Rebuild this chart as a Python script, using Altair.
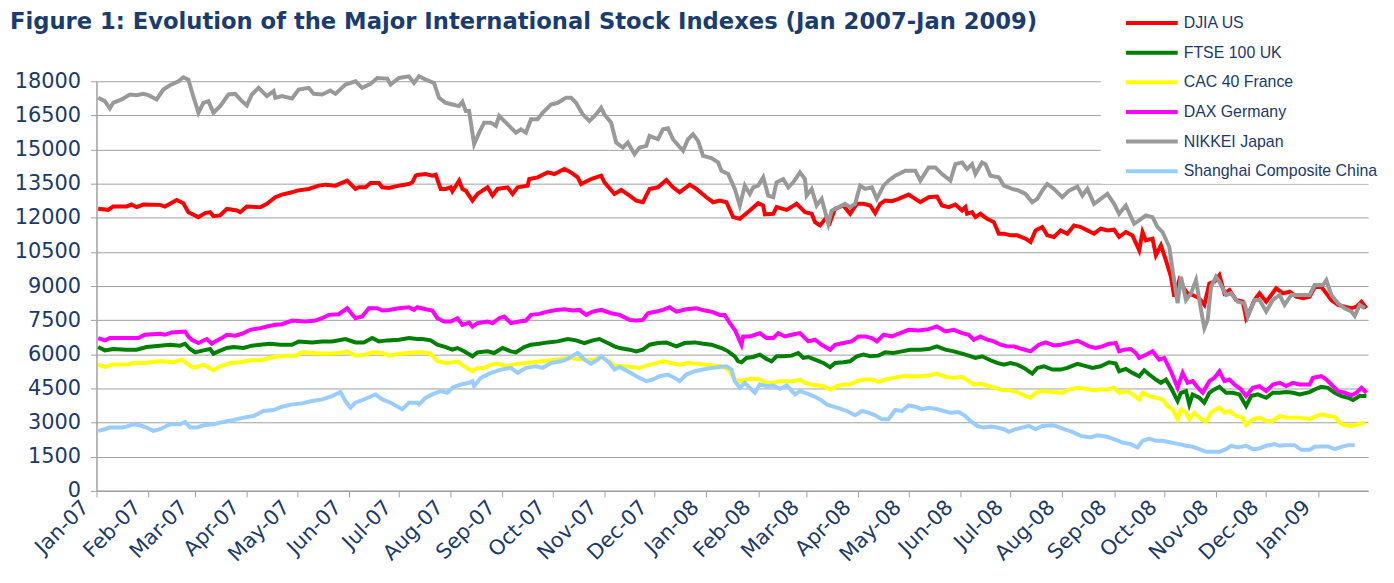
import altair as alt
import pandas as pd

# (day offset from 2007-01-01, index level)
djia = [(1,12393),(7,12349),(10,12495),(18,12495),(21,12582),(24,12466),(28,12582),(38,12568),(41,12495),(48,12786),(52,12641),(55,12247),(61,12029),(65,12204),(68,12247),(70,12073),(74,12102),(78,12393),(84,12320),(86,12247),(90,12495),(98,12466),(102,12612),(107,12903),(111,13019),(117,13121),(120,13194),(127,13267),(133,13412),(137,13456),(143,13412),(150,13631),(155,13267),(157,13340),(161,13340),(164,13529),(169,13529),(171,13340),(175,13311),(181,13412),(187,13485),(189,13558),(191,13849),
        (192,13879),(197,13922),(201,13849),(203,13893),(206,13267),(209,13267),(212,13340),(213,13165),(217,13631),(219,13267),(221,13194),(225,12757),(228,13048),(234,13340),(237,12976),(240,13267),(246,13340),(249,13048),(252,13340),(258,13412),(259,13704),(264,13777),(270,13995),(274,13922),(280,14141),(284,13995),(288,13777),(290,13485),(296,13704),(302,13849),(304,13558),(310,13048),(314,13223),(319,12976),(323,12757),(327,12684),(331,13267),(336,13340),(341,13660),(345,13340),(349,13121),(355,13456),(359,13267),(365,12903),(369,12684),(373,12757),(377,12684),(381,12029),
        (385,11956),(391,12320),(396,12641),(399,12539),(400,12145),(405,12175),(407,12466),(413,12349),(419,12612),(421,12466),(424,12247),(428,12175),(430,11811),(433,11665),(437,12029),(439,11811),(442,12393),(447,12539),(451,12175),(455,12612),(459,12612),(463,12539),(466,12204),(469,12612),(472,12757),(476,12728),(480,12830),(486,13019),(490,12830),(493,12684),(498,12903),(503,12932),(506,12539),(510,12466),(514,12582),(518,12320),(520,12466),(521,12175),(524,12247),(526,12029),(529,12175),(533,11956),(537,11811),(540,11301),(543,11301),(547,11228),(551,11228),(556,11082),(559,10937),(562,11447),(566,11592),(569,11228),
        (573,11155),(577,11447),(581,11301),(585,11665),(589,11592),(593,11447),(597,11301),(601,11519),(605,11447),(609,11476),(612,11155),(616,11374),(620,11228),(624,10573),(626,11374),(628,11010),(632,11082),(634,10354),(637,10791),(640,10136),(643,9408),(645,8534),(648,9262),(650,8971),(653,8680),(656,8607),(660,8461),(663,8170),(666,9116),(669,9189),(672,9481),(675,8680),(678,8825),(682,8388),(686,8315),(688,7587),(690,7879),(693,8388),(696,8680),(700,8315),(706,8898),(710,8680),(714,8752),(718,8534),(722,8461),(726,8534),(729,8942),(733,8971),(736,8680),(739,8388),(743,8170),(747,8097),(751,8024),(754,8097),(757,8315),(760,8024)]

ftse = [(1,6320),(5,6175),(10,6233),(18,6204),(24,6204),(30,6320),(38,6379),(44,6422),(50,6379),(53,6466),(56,6233),(59,6087),(64,6175),(68,6233),(70,6029),(73,6131),(78,6277),(82,6320),(88,6277),(93,6379),(98,6422),(104,6466),(110,6422),(117,6422),(121,6568),(129,6524),(135,6568),(141,6568),(149,6670),(155,6524),(160,6524),(165,6714),(169,6568),(174,6612),(181,6641),(187,6714),(192,6670),
        (195,6670),(200,6612),(204,6422),(209,6320),(213,6204),(216,6277),(220,6131),(225,5913),(228,6087),(234,6131),(238,6058),(243,6277),(248,6131),(251,6087),(256,6320),(260,6422),(265,6466),(270,6524),(276,6568),(282,6670),(287,6612),(292,6495),(297,6612),(301,6670),(306,6495),(310,6349),(313,6277),(319,6204),(323,6131),(327,6204),(331,6422),(336,6495),(341,6524),(347,6349),(352,6495),(358,6524),(363,6466),(368,6422),(374,6277),(378,6131),(382,5913),
        (384,5694),(386,5650),(389,5840),(393,5883),(397,5985),(401,5796),(404,5694),(407,5913),(411,5913),(416,5942),(420,6058),(423,5840),(426,5883),(430,5767),(435,5621),(439,5432),(442,5621),(447,5650),(451,5694),(455,5913),(459,5985),(463,5913),(468,5942),(472,6087),(477,6058),(482,6131),(487,6204),(493,6204),(498,6233),(503,6349),(508,6204),(513,6131),(518,6029),(522,5942),(526,5840),(530,5913),(535,5738),(539,5621),(543,5548),(547,5621),(551,5548),(555,5403),(560,5155),(563,5403),(567,5476),(572,5330),
        (577,5330),(581,5403),(587,5578),(591,5505),(596,5403),(601,5476),(606,5650),(610,5592),(612,5257),(616,5359),(620,5184),(624,5039),(627,5301),(630,5112),(634,4893),(637,4748),(640,4893),(643,4529),(647,3947),(649,4311),(652,4383),(654,3801),(656,4238),(660,4092),(663,3874),(666,4311),(669,4456),(672,4573),(676,4311),(680,4311),(684,4238),(688,3728),(691,4165),(695,4238),(700,4092),(704,4311),(708,4311),(712,4340),(716,4311),(720,4238),(726,4340),(729,4456),(733,4573),(737,4529),(741,4311),(745,4165),(749,4092),(752,3990),(756,4165),(760,4165)]

cac = [(1,5548),(5,5447),(10,5548),(18,5548),(22,5621),(28,5621),(38,5694),(46,5650),(51,5767),(55,5548),(58,5403),(64,5548),(70,5301),(74,5476),(80,5621),(86,5650),(92,5738),(98,5738),(106,5883),(114,5942),(119,5942),(123,6087),(130,6058),(137,6029),(145,6058),(150,6131),(155,5942),(161,5985),(165,6087),(171,6058),(175,5942),(181,6029),(187,6058),(192,6087),
       (195,6087),(200,6029),(204,5694),(209,5621),(213,5650),(216,5694),(220,5476),(225,5257),(228,5403),(232,5403),(236,5548),(240,5592),(245,5476),(249,5548),(253,5592),(257,5621),(261,5650),(266,5694),(272,5738),(278,5796),(283,5840),(288,5796),(293,5767),(298,5767),(302,5883),(307,5694),(310,5505),(315,5476),(320,5447),(325,5403),(329,5505),(334,5592),(339,5694),(344,5621),(349,5548),(354,5621),(359,5592),(364,5548),(369,5505),(374,5476),(378,5330),(382,4893),
       (385,4820),(389,4893),(393,4922),(397,4893),(401,4748),(405,4748),(409,4820),(413,4820),(417,4820),(421,4893),(424,4748),(428,4675),(432,4631),(435,4602),(439,4456),(443,4602),(447,4675),(451,4675),(455,4820),(459,4893),(464,4893),(468,4777),(472,4893),(477,4966),(482,5039),(487,5039),(493,5039),(498,5068),(503,5155),(508,5010),(513,4966),(518,5010),(522,4820),(525,4675),(529,4718),(534,4602),(538,4529),(542,4427),(546,4427),(551,4340),(556,4165),(559,4092),(562,4311),(566,4383),(572,4340),
       (578,4311),(581,4427),(587,4529),(592,4485),(596,4427),(601,4456),(605,4456),(609,4529),(612,4311),(617,4383),(620,4238),(624,4019),(626,4311),(630,4165),(634,4092),(638,4019),(641,3728),(644,3583),(647,3146),(649,3583),(652,3437),(654,3146),(657,3437),(660,3218),(664,3029),(667,3437),(670,3583),(672,3655),(675,3437),(678,3510),(682,3291),(686,3218),(688,2883),(692,3146),(696,3218),(700,3073),(704,3073),(708,3291),(712,3218),(716,3218),(720,3218),(726,3146),(729,3262),(733,3364),(737,3291),(741,3262),(744,3000),(747,2883),(751,2854),(755,2927),(759,3000)]

dax = [(1,6714),(5,6612),(8,6714),(18,6714),(25,6714),(29,6859),(38,6903),(41,6859),(45,6961),(53,7005),(55,6786),(57,6641),(61,6495),(66,6670),(69,6466),(71,6568),(75,6714),(78,6859),(83,6815),(87,6903),(92,7078),(98,7150),(102,7223),(107,7296),(111,7325),(117,7485),(125,7442),(131,7485),(135,7587),(139,7733),(145,7762),(150,8024),(155,7587),(159,7660),(163,8024),(168,8024),(171,7922),(175,7951),(181,8024),(187,8068),(190,7951),
       (192,8068),(197,7981),(201,7922),(204,7587),(208,7442),(212,7442),(216,7587),(219,7296),(223,7398),(225,7223),(228,7369),(234,7442),(237,7369),(241,7587),(244,7660),(248,7369),(253,7442),(257,7485),(260,7733),(265,7777),(270,7879),(275,7951),(280,7981),(285,7922),(289,7951),(293,7733),(297,7879),(302,7951),(308,7806),(313,7733),(319,7514),(323,7485),(327,7514),(330,7806),(335,7879),(339,7951),(343,8068),(347,7879),(353,7981),(359,8024),(364,7922),(368,7879),(373,7733),(376,7733),(379,7369),(382,7078),
       (386,6422),(387,6786),(391,6786),(397,6932),(401,6714),(405,6714),(408,6932),(412,6786),(416,6859),(421,6932),(424,6714),(426,6568),(430,6641),(434,6422),(439,6204),(442,6422),(447,6495),(452,6568),(456,6786),(460,6786),(464,6714),(467,6568),(471,6859),(476,6786),(481,6932),(486,7078),(492,7048),(498,7107),(503,7223),(508,7005),(513,7078),(518,6932),(522,6859),(525,6641),(529,6786),(533,6641),(537,6568),(541,6422),(545,6349),(549,6349),(554,6233),(559,6131),(564,6422),(568,6524),
       (573,6393),(577,6422),(581,6495),(587,6597),(590,6495),(594,6349),(598,6277),(602,6349),(606,6466),(610,6495),(612,6131),(615,6204),(619,6233),(622,6058),(624,5840),(628,5985),(632,6131),(636,5767),(639,5840),(643,5257),(647,4529),(650,5184),(653,4748),(656,4820),(660,4456),(662,4311),(666,4820),(669,4966),(672,5257),(675,4820),(678,4893),(681,4675),(685,4456),(688,4165),(692,4529),(696,4602),(700,4383),(704,4675),(708,4748),(712,4602),(716,4748),(720,4675),(726,4675),(728,4966),(733,5039),(736,4893),(739,4675),(743,4383),(747,4311),(751,4194),(754,4311),(757,4529),(760,4311)]

nikkei = [(1,17272),(5,17126),(8,16806),(10,17053),(15,17199),(20,17417),(24,17388),(28,17446),(31,17388),(36,17199),(40,17636),(44,17825),(49,18000),(52,18175),(55,18073),(57,17563),(61,16616),(64,17053),(67,17126),(70,16616),(74,16908),(79,17417),(83,17446),(87,17126),(90,16937),(93,17417),(97,17709),(102,17345),(106,17563),(107,17272),(111,17345),(117,17243),(121,17636),(127,17709),(130,17446),(135,17417),(140,17592),(143,17446),(149,17854),(155,18000),(159,17709),(164,17883),(168,18146),(174,18116),(176,17854),(181,18146),(187,18218),(190,17927),
          (193,18218),(197,18073),(202,17927),(205,17272),(209,17053),(213,16980),(217,16908),(219,17097),(221,16689),(223,16689),(226,15233),(229,15743),(232,16179),(236,16179),(239,16034),(241,16471),(245,16179),(248,15961),(251,15743),(254,15888),(257,15743),(260,16325),(264,16325),(267,16616),(272,16980),(276,17053),(281,17272),(284,17272),(287,17053),(291,16544),(295,16252),(299,16544),(302,16835),(304,16544),(308,16179),(311,15306),(315,15087),(318,15306),(322,14796),(325,15087),(329,15160),(331,15597),(336,15451),(339,15888),(342,15932),(345,15451),(351,14942),(354,15451),(357,15670),(360,15379),(363,14723),(368,14621),(372,14432),(374,14068),(378,13922),(382,13267),
          (385,12539),(388,13412),(391,13048),(393,13340),(396,13412),(399,13777),(402,12976),(405,12903),(407,13558),(411,13704),(414,13340),(417,13558),(421,13995),(424,13704),(425,12976),(428,13267),(431,12539),(434,12830),(438,11738),(440,12320),(444,12466),(448,12612),(451,12466),(454,12612),(457,13412),(460,13267),(464,13340),(467,12830),(471,13412),(474,13631),(478,13849),(484,14068),(490,14068),(493,13631),(498,14213),(502,14213),(506,13922),(511,13631),(514,14359),(518,14432),(521,14141),(524,14359),(526,13922),(530,14432),(532,14359),(535,13849),(540,13777),(543,13412),(548,13267),(552,13194),(556,13048),(560,12684),(563,12830),(566,13194),(569,13485),
          (573,13267),(578,12903),(582,13194),(587,13369),(590,12976),(593,13267),(597,12612),(601,12830),(605,13048),(609,12612),(612,12175),(616,12539),(621,11738),(624,11883),(628,12102),(632,12029),(635,11592),(638,11374),(642,10718),(644,9699),(647,8243),(649,9408),(652,8388),(655,8680),(658,9262),(661,7951),(663,7150),(665,7514),(667,8971),(670,9408),(672,9189),(676,8607),(679,8680),(683,8315),(687,8243),(689,7660),(693,8388),(696,8388),(700,7879),(704,8388),(708,8607),(711,8170),(715,8607),(720,8607),(726,8607),(729,9044),(734,9044),(736,9262),(739,8607),(743,8243),(747,8024),(751,7879),(753,7689),(756,8170),(759,8024)]

shanghai = [(1,2636),(5,2709),(8,2782),(15,2782),(18,2825),(22,2927),(26,2883),(30,2782),(34,2636),(38,2709),(44,2927),(50,2927),(53,3029),(56,2782),(60,2782),(64,2883),(70,2927),(76,3029),(82,3116),(88,3218),(94,3291),(100,3510),(106,3553),(111,3699),(117,3801),(123,3845),(129,3947),(135,4019),(141,4165),(146,4340),(149,3947),(152,3655),(155,3874),(161,4049),(167,4238),(171,4019),(176,3874),(183,3583),(187,3874),(192,3874),
            (193,3801),(197,4092),(201,4238),(206,4383),(210,4311),(213,4529),(218,4675),(223,4748),(225,4820),(226,4602),(230,4966),(236,5184),(242,5330),(248,5403),(252,5184),(257,5403),(263,5476),(267,5403),(272,5621),(278,5694),(282,5796),(286,5985),(288,6058),(292,5767),(296,5592),(300,5767),(302,5913),(307,5621),(310,5330),(313,5447),(318,5257),(323,5039),(329,4820),(333,4893),(337,5039),(342,5112),(346,4966),(349,4820),(353,5112),(358,5257),(363,5330),(368,5403),(373,5447),(377,5476),(380,5330),(382,4820),
            (385,4529),(388,4748),(391,4529),(394,4311),(397,4675),(401,4602),(405,4631),(409,4485),(413,4631),(418,4238),(421,4383),(425,4282),(429,4165),(433,4019),(437,3801),(441,3699),(445,3612),(449,3510),(454,3320),(458,3510),(462,3437),(466,3320),(470,3146),(474,3146),(478,3553),(482,3510),(486,3757),(490,3699),(494,3583),(498,3655),(502,3612),(507,3510),(511,3437),(516,3466),(520,3291),(523,3073),(527,2854),(531,2782),(535,2825),(539,2782),(543,2709),(546,2592),(550,2709),(554,2782),(558,2854),(562,2709),(566,2854),(572,2883),
            (574,2854),(579,2709),(584,2592),(589,2417),(595,2345),(599,2447),(604,2388),(609,2272),(614,2126),(619,2053),(623,1908),(626,2199),(630,2301),(634,2199),(638,2199),(643,2126),(648,2053),(652,1981),(656,1937),(660,1835),(664,1718),(668,1718),(672,1718),(676,1835),(679,1981),(683,1908),(688,1981),(692,1835),(696,1864),(700,1981),(705,2053),(708,1981),(712,2010),(717,2010),(721,1806),(726,1806),(729,1937),(733,1951),(737,1951),(741,1835),(745,1937),(749,2010),(753,2010)]

names = ["DJIA US", "FTSE 100 UK", "CAC 40 France", "DAX Germany", "NIKKEI Japan", "Shanghai Composite China"]
colors = ["#FF0000", "#008000", "#FFFF00", "#FF00FF", "#999999", "#99CCFF"]
series = [djia, ftse, cac, dax, nikkei, shanghai]
y_ticks = list(range(0, 18001, 1500))
month_ticks = [(2007, m) for m in range(1, 13)] + [(2008, m) for m in range(1, 13)] + [(2009, 1)]
title_text = ["Figure 1: Evolution of the Major International Stock Indexes (Jan 2007-Jan 2009)"]

TXT = "#1A3A6A"
GRID = "#A0A0A0"

base = pd.Timestamp("2007-01-01")
rows = []
for name, pts in zip(names, series):
    for d, v in pts:
        rows.append({"Index": name, "Date": base + pd.Timedelta(days=d), "Value": v})
df = pd.DataFrame(rows)

x_scale = alt.Scale(domain=[alt.DateTime(year=2007, month=1, date=1),
                            alt.DateTime(year=2009, month=1, date=31)])
y_scale = alt.Scale(domain=[0, 18000], nice=False, zero=True)
color_scale = alt.Scale(domain=names, range=colors)

x_axis = alt.Axis(values=[alt.DateTime(year=y, month=m, date=1) for y, m in month_ticks],
                  format="%b-%y", formatType="time", labelAngle=-45, labelAlign="right",
                  labelBaseline="middle", labelFont="DejaVu Sans", labelFontSize=21,
                  labelColor=TXT, labelPadding=7, labelOffset=-11, labelOverlap=False,
                  labelFlush=False, labelBound=False, grid=False, tickSize=6,
                  tickColor=GRID, domainColor=GRID, domainWidth=1.5, title=None)
y_axis = alt.Axis(values=y_ticks, format="d", grid=True, gridColor=GRID, gridWidth=1,
                  tickSize=6, tickColor=GRID, domainColor=GRID, domainWidth=1.5,
                  labelFont="DejaVu Sans", labelFontSize=21, labelColor=TXT,
                  labelPadding=10, labelOverlap=False, labelFlush=False, title=None)
legend = alt.Legend(title=None, orient="none", legendX=1010, legendY=-71,
                    direction="vertical", symbolType="M-4,0H4", symbolSize=169,
                    symbolStrokeWidth=4, symbolOffset=39, labelOffset=23.5,
                    labelFont="Liberation Sans", labelFontSize=16, labelColor=TXT,
                    labelLimit=400, rowPadding=12.8, padding=4, fillColor="white")

layers = []
for name in names:
    layers.append(
        alt.Chart(df)
        .transform_filter(alt.datum.Index == name)
        .mark_line(strokeWidth=4, clip=False)
        .encode(
            x=alt.X("Date:T", scale=x_scale, axis=x_axis),
            y=alt.Y("Value:Q", scale=y_scale, axis=y_axis),
            color=alt.Color("Index:N", scale=color_scale, legend=legend),
        )
    )

title_layer = (
    alt.Chart(pd.DataFrame({"t": title_text}))
    .mark_text(align="left", baseline="alphabetic", font="DejaVu Sans", fontSize=22.8,
               fontWeight="bold", color="#1B3C6E", clip=False)
    .encode(text="t:N", x=alt.value(-87), y=alt.value(-53))
)

chart = (
    alt.layer(*layers, title_layer)
    .properties(
        width=1279, height=412,
        padding={"left": 89, "top": 72, "right": 18, "bottom": 91},
        autosize=alt.AutoSizeParams(type="none"),
        background="white",
    )
    .configure_view(stroke=None)
)

chart.save("out.html", embed_options={"renderer": "svg", "actions": False})
